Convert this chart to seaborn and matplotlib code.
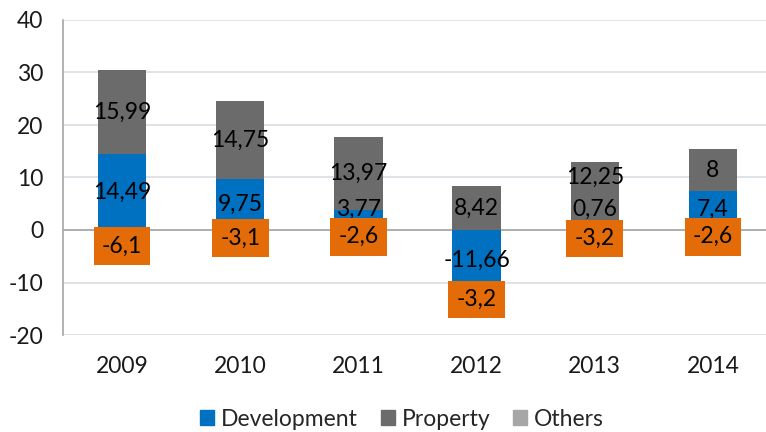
import numpy as np
import matplotlib
matplotlib.use('Agg')
import matplotlib.pyplot as plt
from matplotlib.patches import Patch
import seaborn as sns

sns.set_style('white')
plt.rcParams['font.family'] = ['Lato', 'DejaVu Sans']

# data
years = ['2009', '2010', '2011', '2012', '2013', '2014']
development = [14.49, 9.75, 3.77, -11.66, 0.76, 7.4]
property_ = [15.99, 14.75, 13.97, 8.42, 12.25, 8]
others = [-6.1, -3.1, -2.6, -3.2, -3.2, -2.6]
y_ticks = [-20, -10, 0, 10, 20, 30, 40]

c_dev = '#0070C0'
c_prop = '#6B6B6B'
c_oth = '#A6A6A6'
c_lab = '#E36C09'

dev = np.array(development)
prop = np.array(property_)
oth = np.array(others)
prop_bottom = np.where(dev > 0, dev, 0)
oth_bottom = np.where(dev < 0, dev, 0)

fig = plt.figure(figsize=(7.66, 4.32), dpi=100)
ax = fig.add_axes([63 / 766, 1 - 335 / 432, (772 - 63) / 766, 315 / 432])

bw = 0.41
bar_kw = dict(width=bw, ax=ax, saturation=1, zorder=3, linewidth=0, edgecolor='none')
sns.barplot(x=years, y=dev, color=c_dev, **bar_kw)
sns.barplot(x=years, y=prop, bottom=prop_bottom, color=c_prop, **bar_kw)
sns.barplot(x=years, y=oth, bottom=oth_bottom, color=c_oth, **bar_kw)

def fmt(v):
    return f'{v:g}'.replace('.', ',')

fs = 16.5
for i in range(len(years)):
    # labels on positive stack, pushed up so they don't collide
    if dev[i] > 0:
        dy = max(dev[i] / 2, 4)
    else:
        dy = dev[i] / 2
    py = prop_bottom[i] + prop[i] / 2
    if dev[i] > 0:
        py = max(py, dy + 6)
    ax.text(i, dy, fmt(dev[i]), ha='center', va='center', fontsize=fs,
            color='black', zorder=5)
    ax.text(i, py, fmt(prop[i]), ha='center', va='center', fontsize=fs,
            color='black', zorder=5)
    oy = oth_bottom[i] + oth[i] / 2
    ax.text(i, oy, fmt(oth[i]), ha='center', va='center', fontsize=fs,
            color='black', zorder=6,
            bbox=dict(boxstyle='square,pad=0.36', fc=c_lab, ec='none'))

ax.set_xlim(-0.5, 5.5)
ax.set_ylim(-20, 40)
ax.set_yticks(y_ticks)
ax.set_yticklabels([str(t) for t in y_ticks])
ax.grid(axis='y', color='#D9DEE4', linewidth=1.2, zorder=0)
ax.axhline(0, color='#A6A6A6', linewidth=1.2, zorder=2)
for s in ['top', 'right', 'bottom']:
    ax.spines[s].set_visible(False)
ax.spines['left'].set_color('#A6A6A6')
ax.spines['left'].set_linewidth(1.2)
ax.tick_params(axis='both', length=0, labelsize=fs, colors='#1A1A1A')
ax.tick_params(axis='y', pad=14)
ax.tick_params(axis='x', pad=15)
ax.set_xlabel('')
ax.set_ylabel('')

handles = [Patch(color=c_dev, label='Development'),
           Patch(color=c_prop, label='Property'),
           Patch(color=c_oth, label='Others')]
fig.legend(handles=handles, loc='center', bbox_to_anchor=(402 / 766, 1 - 419 / 432),
           ncol=3, frameon=False, fontsize=fs, handlelength=0.6, handleheight=0.6,
           handletextpad=0.3, columnspacing=1.0)

fig.savefig('out.png', dpi=100)
